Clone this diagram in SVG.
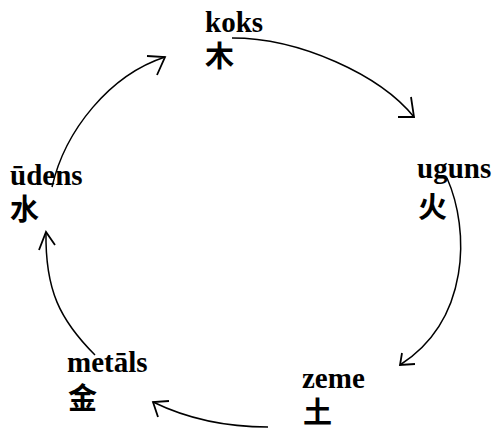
<svg xmlns="http://www.w3.org/2000/svg" width="493" height="428" viewBox="0 0 493 428">
<style>
.lbl{font-family:"Liberation Serif",serif;font-weight:bold;font-size:29px;fill:#000}
.cjk{font-family:"Noto Sans CJK SC","Noto Sans CJK JP",sans-serif;font-weight:bold;font-size:29px;fill:#000}
.arc{fill:none;stroke:#000;stroke-width:1.5}
.head{fill:none;stroke:#000;stroke-width:1.8}
</style>
<rect width="493" height="428" fill="#fff"/>
<g id="koks"><text class="lbl" x="205" y="32">koks</text><text class="cjk" x="205" y="67">木</text></g>
<g id="uguns"><text class="lbl" x="417" y="178">uguns</text><text class="cjk" x="418" y="218">火</text></g>
<g id="zeme"><text class="lbl" x="302" y="388">zeme</text><text class="cjk" x="303" y="423">土</text></g>
<g id="metals"><text class="lbl" x="67" y="372">metāls</text><text class="cjk" x="68" y="409">金</text></g>
<g id="udens"><text class="lbl" x="10" y="185">ūdens</text><text class="cjk" x="10" y="220">水</text></g>
<g id="connectors">
<path class="arc" d="M232,38 C300,38 380,75 414,117"/>
<path class="head" d="M411,97 L414,117 L398,117"/>
<path class="arc" d="M447,178 C470,230 470,320 400,365"/>
<path class="head" d="M402,353 L400,365 L415,364"/>
<path class="arc" d="M268,427 C230,427 190,420 153,402"/>
<path class="head" d="M169,401 L153,402 L158,417"/>
<path class="arc" d="M95,355 C60,320 45,290 46,232"/>
<path class="head" d="M39,250 L46,232 L55,245"/>
<path class="arc" d="M52,187 C65,130 110,75 165,57"/>
<path class="head" d="M147,56 L165,57 L157,75"/>
</g>
</svg>
